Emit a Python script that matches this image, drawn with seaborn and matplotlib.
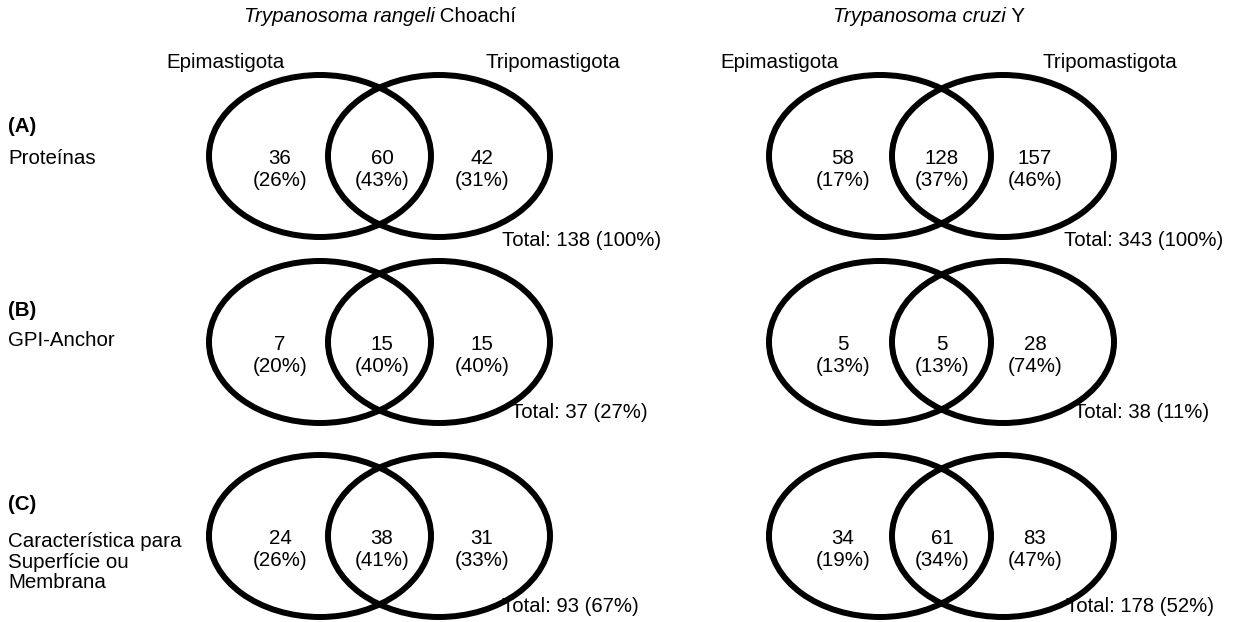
import matplotlib
matplotlib.use("Agg")
import matplotlib.pyplot as plt
from matplotlib.patches import Ellipse
import seaborn as sns

# Venn counts per category: [Epimastigota only, both stages, Tripomastigota only]
row_tags = ["(A)", "(B)", "(C)"]
row_labels = ["Proteínas", "GPI-Anchor", "Característica para\nSuperfície ou\nMembrana"]
stage_labels = ["Epimastigota", "Tripomastigota"]

rangeli_counts = [[36, 60, 42], [7, 15, 15], [24, 38, 31]]
rangeli_pcts = [[26, 43, 31], [20, 40, 40], [26, 41, 33]]
rangeli_totals = [138, 37, 93]
rangeli_total_pcts = [100, 27, 67]

cruzi_counts = [[58, 128, 157], [5, 5, 28], [34, 61, 83]]
cruzi_pcts = [[17, 37, 46], [13, 13, 74], [19, 34, 47]]
cruzi_totals = [343, 38, 178]
cruzi_total_pcts = [100, 11, 52]

sns.set_theme(style="white")
plt.rcParams["font.family"] = ["Liberation Sans", "DejaVu Sans"]

FS = 14.8
FS_TOTAL = 14.6
W, H = 1240, 622
fig = plt.figure(figsize=(W / 100, H / 100), dpi=100)
ax = fig.add_axes([0, 0, 1, 1])
ax.set_xlim(0, W)
ax.set_ylim(H, 0)
ax.axis("off")

# layout (pixel units of the canvas)
row_y = [156, 342, 536]
ell_w, ell_h, lw = 222, 162, 4.3

panels = [
    dict(species="Trypanosoma rangeli", strain=" Choachí", title_x=380,
         centers=(320, 439), text_x=(280, 382, 482), stage_x=(225, 553),
         total_x=(502, 511, 502),
         counts=rangeli_counts, pcts=rangeli_pcts,
         totals=rangeli_totals, total_pcts=rangeli_total_pcts),
    dict(species="Trypanosoma cruzi", strain=" Y", title_x=929,
         centers=(880, 1003), text_x=(843, 942, 1035), stage_x=(780, 1110),
         total_x=(1064, 1074, 1066),
         counts=cruzi_counts, pcts=cruzi_pcts,
         totals=cruzi_totals, total_pcts=cruzi_total_pcts),
]
total_y = [240, 413, 607]

titles = []
for p in panels:
    t1 = ax.text(0, 17, p["species"], fontsize=FS, style="italic",
                 ha="left", va="center", color="black")
    t2 = ax.annotate(p["strain"], xy=(1, 0.5), xycoords=t1, fontsize=FS,
                     ha="left", va="center", color="black")
    titles.append((t1, t2, p["title_x"]))
    for name, sx in zip(stage_labels, p["stage_x"]):
        ax.text(sx, 63, name, fontsize=FS, ha="center", va="center", color="black")

    for r, cy in enumerate(row_y):
        for cx in p["centers"]:
            ax.add_patch(Ellipse((cx, cy), ell_w, ell_h, fill=False,
                                 edgecolor="black", linewidth=lw))
        for tx, n, pc in zip(p["text_x"], p["counts"][r], p["pcts"][r]):
            ax.text(tx, cy + 3, f"{n}", fontsize=FS, ha="center", va="center", color="black")
            ax.text(tx, cy + 25, f"({pc}%)", fontsize=FS, ha="center", va="center", color="black")
        ax.text(p["total_x"][r], total_y[r],
                f"Total: {p['totals'][r]} ({p['total_pcts'][r]}%)",
                fontsize=FS_TOTAL, ha="left", va="center", color="black")

# row descriptors on the left
tag_y = [127, 310, 504]
label_y = [158, 341, 562]
for tag, ty, lab, ly in zip(row_tags, tag_y, row_labels, label_y):
    ax.text(8, ty, tag, fontsize=FS, fontweight="bold", ha="left", va="center", color="black")
    ax.text(8, ly, lab, fontsize=FS, ha="left", va="center", linespacing=1.1, color="black")

# center each two-part title (italic species + strain)
fig.canvas.draw()
inv = ax.transData.inverted()
for t1, t2, cx in titles:
    b1 = t1.get_window_extent()
    b2 = t2.get_window_extent()
    x0 = inv.transform((b1.x0, 0))[0]
    x1 = inv.transform((b2.x1, 0))[0]
    t1.set_x(cx - (x1 - x0) / 2)

fig.savefig("out.png", dpi=100, facecolor="white")
